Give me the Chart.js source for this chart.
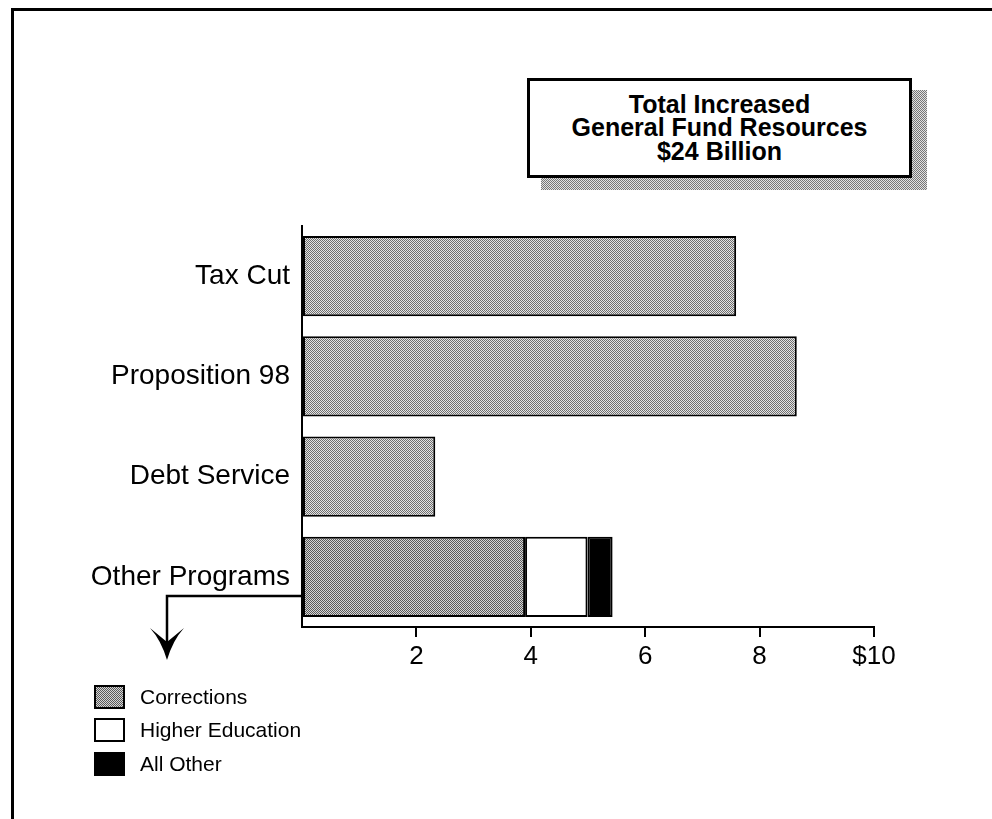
<!DOCTYPE html>
<html>
<head>
<meta charset="utf-8">
<script src="https://cdn.jsdelivr.net/npm/chart.js@4/dist/chart.umd.min.js"></script>
<style>
  html, body { margin: 0; padding: 0; background: #fff; }
  #wrap { position: relative; width: 992px; height: 819px; overflow: hidden; font-family: 'Liberation Sans', Arial, Helvetica, sans-serif; }
  #frame { position: absolute; left: 11px; top: 8px; width: 1000px; height: 830px; border-top: 3px solid #000; border-left: 3px solid #000; }
  canvas { position: absolute; left: 0; top: 0; }
  #shadow { position: absolute; left: 541px; top: 90px; width: 386px; height: 100px;
    background: repeating-conic-gradient(#777 0 25%, #e2e2e2 0 50%) 0 0 / 2px 2px; }
  #titlebox { position: absolute; left: 527px; top: 78px; width: 379px; height: 94px; background: #fff; border: 3px solid #000;
    display: flex; flex-direction: column; justify-content: center; align-items: center; font-weight: bold; font-size: 25px; line-height: 23.5px; color: #000; }
  #legend { position: absolute; left: 94px; top: 680px; }
  .row { display: flex; align-items: center; height: 33.5px; }
  .sw { width: 27px; height: 20px; border: 2px solid #000; box-sizing: content-box; margin-right: 15px; }
  .lbl { font-size: 21px; color: #000; }
</style>
</head>
<body>
<div id="wrap">
  <div id="frame"></div>
  <canvas id="c" width="992" height="819"></canvas>
  <div id="shadow"></div>
  <div id="titlebox"></div>
  <div id="legend"></div>
</div>
<script>
const categories = ['Tax Cut', 'Proposition 98', 'Debt Service', 'Other Programs'];
const totals = [7.59, 8.65, 2.33, null];
const corrections = [null, null, null, 3.90];
const higherEducation = [null, null, null, 1.09];
const allOther = [null, null, null, 0.44];
const seriesNames = ['Corrections', 'Higher Education', 'All Other'];
const xTickValues = [2, 4, 6, 8, 10];
const xTickLabels = ['2', '4', '6', '8', '$10'];
const titleLines = ['Total Increased', 'General Fund Resources', '$24 Billion'];

function makePattern(dark, light) {
  const p = document.createElement('canvas');
  p.width = 2; p.height = 2;
  const g = p.getContext('2d');
  g.fillStyle = light; g.fillRect(0, 0, 2, 2);
  g.fillStyle = dark; g.fillRect(0, 0, 1, 1); g.fillRect(1, 1, 1, 1);
  return document.getElementById('c').getContext('2d').createPattern(p, 'repeat');
}
const barPattern = makePattern('#6e6e6e', '#e4e4e4');
const corrPattern = makePattern('#5a5a5a', '#d6d6d6');

document.getElementById('titlebox').innerHTML = titleLines.map(t => '<div>' + t.replace('$', '&#36;') + '</div>').join('');

const swatchStyles = [
  'background: repeating-conic-gradient(#5a5a5a 0 25%, #d6d6d6 0 50%) 0 0 / 2px 2px;',
  'background: #fff;',
  'background: #000;'
];
document.getElementById('legend').innerHTML = seriesNames.map((n, i) =>
  '<div class="row"><div class="sw" style="' + swatchStyles[i] + '"></div><div class="lbl">' + n + '</div></div>').join('');

const arrowPlugin = {
  id: 'arrow',
  afterDraw(chart) {
    const ctx = chart.ctx;
    const xs = chart.scales.x, ys = chart.scales.y;
    const y0 = ys.getPixelForValue(3) + 19;
    const x0 = xs.getPixelForValue(0);
    const ax = 167;
    ctx.save();
    ctx.strokeStyle = '#000';
    ctx.lineWidth = 2.5;
    ctx.beginPath();
    ctx.moveTo(x0, y0);
    ctx.lineTo(ax, y0);
    ctx.lineTo(ax, 645);
    ctx.stroke();
    ctx.fillStyle = '#000';
    ctx.beginPath();
    ctx.moveTo(ax, 660);
    ctx.quadraticCurveTo(ax - 6, 640, ax - 17, 628);
    ctx.lineTo(ax, 642);
    ctx.lineTo(ax + 17, 628);
    ctx.quadraticCurveTo(ax + 6, 640, ax, 660);
    ctx.closePath();
    ctx.fill();
    ctx.restore();
  }
};

const FONT = "'Liberation Sans', Arial, Helvetica, sans-serif";

new Chart(document.getElementById('c'), {
  type: 'bar',
  data: {
    labels: categories,
    datasets: [
      { label: 'Total', data: totals, backgroundColor: barPattern },
      { label: seriesNames[0], data: corrections, backgroundColor: corrPattern },
      { label: seriesNames[1], data: higherEducation, backgroundColor: '#ffffff' },
      { label: seriesNames[2], data: allOther, backgroundColor: '#000000' }
    ]
  },
  options: {
    indexAxis: 'y',
    responsive: false,
    animation: false,
    devicePixelRatio: 1,
    datasets: {
      bar: { barPercentage: 0.8, categoryPercentage: 1.0, borderColor: '#000', borderWidth: 2, borderSkipped: false }
    },
    layout: { padding: { left: 12, top: 226, right: 118, bottom: 142 } },
    plugins: { legend: { display: false }, tooltip: { enabled: false }, title: { display: false } },
    scales: {
      x: {
        stacked: true,
        min: 0, max: 10,
        afterBuildTicks: (s) => { s.ticks = [0].concat(xTickValues).map(v => ({ value: v })); },
        afterFit: (s) => { s.height = 50; },
        ticks: {
          color: '#000', padding: 4, maxRotation: 0, autoSkip: false,
          font: { family: FONT, size: 26 },
          callback: (v) => { const i = xTickValues.indexOf(v); return i < 0 ? '' : xTickLabels[i]; }
        },
        grid: {
          display: true, drawOnChartArea: false, drawTicks: true, tickLength: 10, lineWidth: 2,
          color: (c) => (c.tick && c.tick.value === 0) ? 'rgba(0,0,0,0)' : '#000'
        },
        border: { display: true, color: '#000', width: 2 }
      },
      y: {
        stacked: true,
        afterFit: (s) => { s.width = 290; },
        ticks: { color: '#000', padding: 12, font: { family: FONT, size: 28 } },
        grid: { display: true, drawOnChartArea: false, drawTicks: false },
        border: { display: true, color: '#000', width: 2 }
      }
    }
  },
  plugins: [arrowPlugin]
});
</script>
</body>
</html>
